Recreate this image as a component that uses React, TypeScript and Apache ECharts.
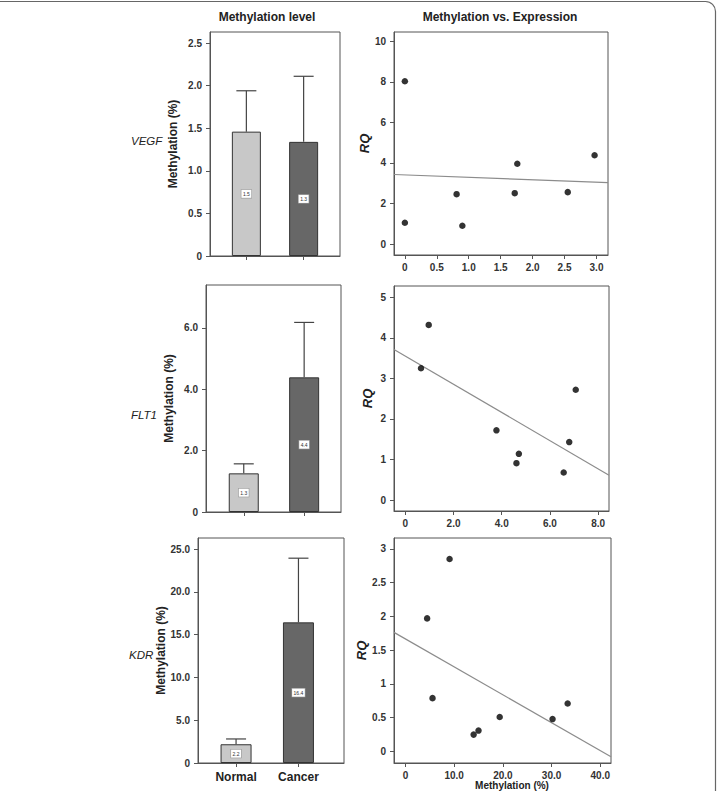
import React, { useEffect, useRef } from 'react';
import * as echarts from 'echarts';

// ---- data ----
const genes = ['VEGF', 'FLT1', 'KDR'];
const barCategories = ['Normal', 'Cancer'];

const vegfMean = [1.46, 1.34];
const vegfErr = [0.48, 0.77];
const flt1Mean = [1.26, 4.39];
const flt1Err = [0.31, 1.79];
const kdrMean = [2.19, 16.44];
const kdrErr = [0.62, 7.5];

const vegfMeth = [0, 0, 0.81, 0.9, 1.72, 1.76, 2.55, 2.97];
const vegfRQ = [8.03, 1.05, 2.46, 0.9, 2.51, 3.96, 2.56, 4.38];
const vegfFit = [3.41, -0.118]; // intercept, slope

const flt1Meth = [0.97, 0.65, 3.78, 4.61, 4.71, 6.57, 6.8, 7.07];
const flt1RQ = [4.32, 3.25, 1.72, 0.91, 1.14, 0.68, 1.43, 2.72];
const flt1Fit = [3.55, -0.3475];

const kdrMeth = [9.06, 4.45, 5.56, 14.0, 15.0, 19.35, 30.2, 33.3];
const kdrRQ = [2.85, 1.97, 0.79, 0.25, 0.31, 0.51, 0.48, 0.71];
const kdrFit = [1.666, -0.0413];

const vegfBarTicks = [0, 0.5, 1, 1.5, 2, 2.5];
const flt1BarTicks = [0, 2, 4, 6];
const kdrBarTicks = [0, 5, 10, 15, 20, 25];
const vegfRqTicks = [0, 2, 4, 6, 8, 10];
const vegfMethTicks = [0, 0.5, 1, 1.5, 2, 2.5, 3];
const flt1RqTicks = [0, 1, 2, 3, 4, 5];
const flt1MethTicks = [0, 2, 4, 6, 8];
const kdrRqTicks = [0, 0.5, 1, 1.5, 2, 2.5, 3];
const kdrMethTicks = [0, 10, 20, 30, 40];

const FONT = 'Liberation Sans, Arial, sans-serif';
const fmt1 = (v: number) => (v === 0 ? '0' : v.toFixed(1));
const fmtPlain = (v: number) => String(v);

export default function App() {
  const ref = useRef<HTMLDivElement>(null);

  useEffect(() => {
    if (!ref.current) return;
    const chart = echarts.init(ref.current, undefined, { renderer: 'svg' });

    const grids = [
      { left: 210, top: 32, width: 130, height: 224 },
      { left: 394, top: 32, width: 214, height: 223 },
      { left: 206, top: 285, width: 135, height: 227 },
      { left: 394, top: 286, width: 215, height: 225 },
      { left: 198, top: 538, width: 146, height: 225 },
      { left: 394, top: 538, width: 217, height: 225 },
    ].map((g) => ({ ...g, show: true, borderColor: '#555', borderWidth: 1, backgroundColor: 'transparent' }));

    const tickLabel = { fontFamily: FONT, fontWeight: 'bold' as const, fontSize: 10, color: '#333' };
    const axisLine = { show: true, onZero: false, lineStyle: { color: '#555', width: 1 } };
    const axisTickStyle = { lineStyle: { color: '#555', width: 1 }, length: 4 };

    const barPanels = [
      { mean: vegfMean, err: vegfErr, ticks: vegfBarTicks, ymax: 2.63, xr: [0.365, 2.635], bw: 29 },
      { mean: flt1Mean, err: flt1Err, ticks: flt1BarTicks, ymax: 7.4, xr: [0.375, 2.61], bw: 30 },
      { mean: kdrMean, err: kdrErr, ticks: kdrBarTicks, ymax: 26.3, xr: [0.39, 2.73], bw: 31 },
    ];
    const scatterPanels = [
      { x: vegfMeth, y: vegfRQ, fit: vegfFit, xt: vegfMethTicks, yt: vegfRqTicks, xr: [-0.17, 3.18], yr: [-0.54, 10.46], yfmt: fmtPlain },
      { x: flt1Meth, y: flt1RQ, fit: flt1Fit, xt: flt1MethTicks, yt: flt1RqTicks, xr: [-0.47, 8.45], yr: [-0.27, 5.28], yfmt: fmtPlain },
      { x: kdrMeth, y: kdrRQ, fit: kdrFit, xt: kdrMethTicks, yt: kdrRqTicks, xr: [-2.35, 42.2], yr: [-0.17, 3.16], yfmt: fmtPlain },
    ];

    const xAxes: any[] = [];
    const yAxes: any[] = [];
    const series: any[] = [];

    const order = [
      { kind: 'bar', p: barPanels[0] },
      { kind: 'sc', p: scatterPanels[0] },
      { kind: 'bar', p: barPanels[1] },
      { kind: 'sc', p: scatterPanels[1] },
      { kind: 'bar', p: barPanels[2] },
      { kind: 'sc', p: scatterPanels[2] },
    ];

    order.forEach((o, i) => {
      if (o.kind === 'bar') {
        const p: any = o.p;
        xAxes.push({
          type: 'value', gridIndex: i, min: p.xr[0], max: p.xr[1],
          axisLine, splitLine: { show: false },
          axisTick: { ...axisTickStyle, customValues: [1, 2] },
          axisLabel: {
            show: i === 4, customValues: [1, 2], margin: 8,
            formatter: (v: number) => barCategories[Math.round(v) - 1],
            fontFamily: FONT, fontWeight: 'bold', fontSize: 12, color: '#222',
          },
        });
        yAxes.push({
          type: 'value', gridIndex: i, min: 0, max: p.ymax,
          axisLine, splitLine: { show: false },
          axisTick: { ...axisTickStyle, customValues: p.ticks },
          axisLabel: { ...tickLabel, customValues: p.ticks, formatter: fmt1, margin: 8 },
          name: 'Methylation (%)', nameLocation: 'middle', nameGap: 31, nameRotate: 90,
          nameTextStyle: { fontFamily: FONT, fontWeight: 'bold', fontSize: 12, color: '#222' },
        });
        series.push({
          type: 'bar', xAxisIndex: i, yAxisIndex: i, barWidth: p.bw,
          data: p.mean.map((m: number, k: number) => ({
            value: [k + 1, m],
            itemStyle: { color: k === 0 ? '#c8c8c8' : '#676767', borderColor: '#333', borderWidth: 1 },
          })),
          label: {
            show: true, position: 'inside',
            formatter: (prm: any) => prm.value[1].toFixed(1),
            fontFamily: FONT, fontSize: 5, color: '#333', backgroundColor: '#fff',
            borderColor: '#999', borderWidth: 0.6, padding: [1.5, 1.5],
          },
        });
        series.push({
          type: 'custom', xAxisIndex: i, yAxisIndex: i, z: 5,
          encode: { x: 0, y: [1, 2] },
          data: p.mean.map((m: number, k: number) => [k + 1, m, m + p.err[k]]),
          renderItem: (params: any, api: any) => {
            const a = api.coord([api.value(0), api.value(1)]);
            const b = api.coord([api.value(0), api.value(2)]);
            const st = { stroke: '#444', lineWidth: 1.2 };
            return {
              type: 'group',
              children: [
                { type: 'line', shape: { x1: a[0], y1: a[1], x2: b[0], y2: b[1] }, style: st },
                { type: 'line', shape: { x1: b[0] - 10, y1: b[1], x2: b[0] + 10, y2: b[1] }, style: st },
              ],
            };
          },
        });
      } else {
        const p: any = o.p;
        xAxes.push({
          type: 'value', gridIndex: i, min: p.xr[0], max: p.xr[1],
          axisLine, splitLine: { show: false },
          axisTick: { ...axisTickStyle, customValues: p.xt },
          axisLabel: { ...tickLabel, customValues: p.xt, formatter: fmt1, margin: 7 },
        });
        yAxes.push({
          type: 'value', gridIndex: i, min: p.yr[0], max: p.yr[1],
          axisLine, splitLine: { show: false },
          axisTick: { ...axisTickStyle, customValues: p.yt },
          axisLabel: { ...tickLabel, customValues: p.yt, formatter: p.yfmt, margin: 8 },
          name: 'RQ', nameLocation: 'middle', nameGap: 20, nameRotate: 90,
          nameTextStyle: { fontFamily: FONT, fontWeight: 'bold', fontStyle: 'italic', fontSize: 13, color: '#222' },
        });
        series.push({
          type: 'line', xAxisIndex: i, yAxisIndex: i, symbol: 'none', silent: true,
          lineStyle: { color: '#8c8c8c', width: 1.2 },
          data: [p.xr[0], p.xr[1]].map((xv: number) => [xv, p.fit[0] + p.fit[1] * xv]),
          z: 2,
        });
        series.push({
          type: 'scatter', xAxisIndex: i, yAxisIndex: i, symbolSize: 6.5, z: 3,
          itemStyle: { color: '#000' },
          data: p.x.map((xv: number, k: number) => [xv, p.y[k]]),
        });
      }
    });

    const geneX = [131, 131, 129];
    const geneY = [141, 415, 655];

    chart.setOption({
      animation: false,
      backgroundColor: '#fff',
      grid: grids,
      xAxis: xAxes,
      yAxis: yAxes,
      series,
      graphic: [
        {
          type: 'rect', shape: { x: -10, y: 1.5, width: 725.5, height: 900, r: 10 },
          style: { fill: 'none', stroke: '#666', lineWidth: 1.2 }, silent: true,
        },
        {
          type: 'text', x: 267, y: 17,
          style: { text: 'Methylation level', font: `bold 12px ${FONT}`, fill: '#222', textAlign: 'center', textVerticalAlign: 'middle' },
        },
        {
          type: 'text', x: 500, y: 17,
          style: { text: 'Methylation vs. Expression', font: `bold 12px ${FONT}`, fill: '#222', textAlign: 'center', textVerticalAlign: 'middle' },
        },
        ...genes.map((g, k) => ({
          type: 'text', x: geneX[k], y: geneY[k],
          style: { text: g, font: `italic 11.5px ${FONT}`, fill: '#222', textAlign: 'left', textVerticalAlign: 'middle' },
        })),
        {
          type: 'text', x: 512, y: 780,
          style: { text: 'Methylation (%)', font: `bold 10px ${FONT}`, fill: '#222', textAlign: 'center', textVerticalAlign: 'top' },
        },
      ],
    });

    return () => chart.dispose();
  }, []);

  return (
    <div
      ref={ref}
      style={{ position: 'fixed', left: 0, top: 0, width: 717, height: 791, background: '#fff' }}
    />
  );
}
